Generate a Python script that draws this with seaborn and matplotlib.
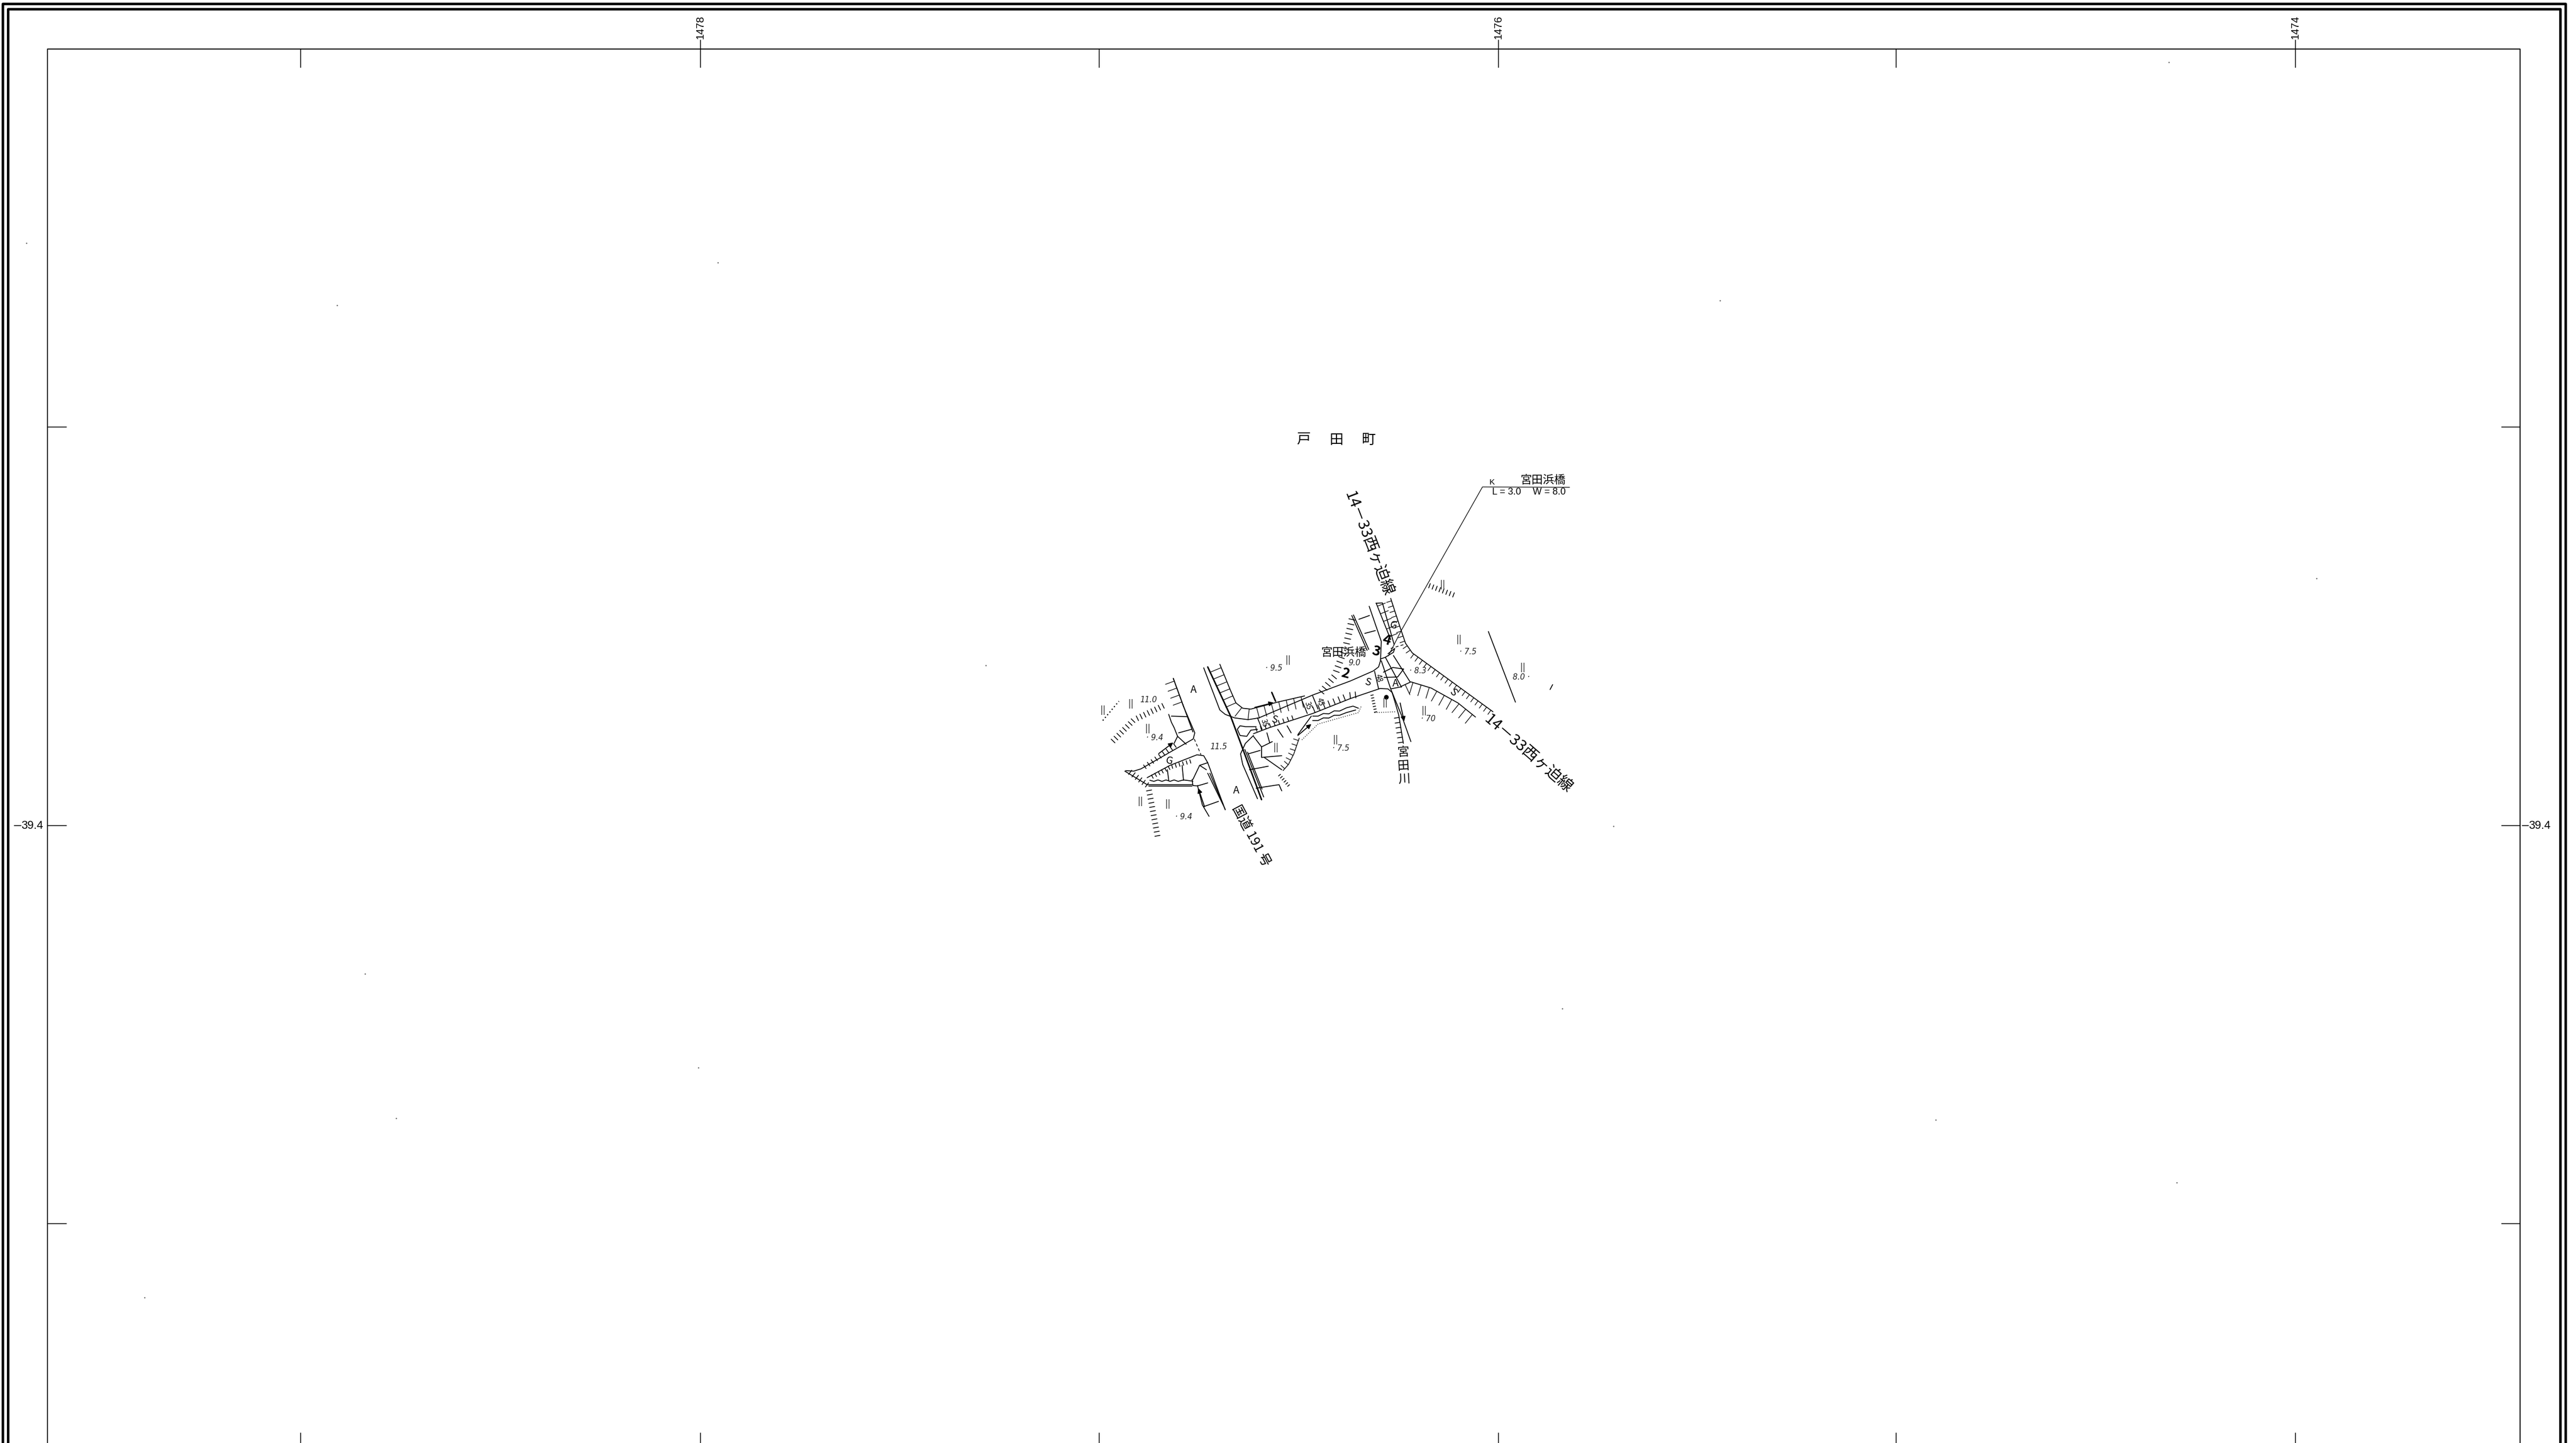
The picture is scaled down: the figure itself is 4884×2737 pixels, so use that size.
"""
Site plan sheet for the 宮田浜橋 area, traced by hand from the scan.
Everything sits on one axes in sheet pixels. Crop A / crop B lists are the
traces as read from the two zoomed crops, converted in crop_a() / crop_b().
"""

import matplotlib
matplotlib.use("Agg")
import matplotlib.pyplot as plt
import matplotlib.patheffects as pe
import pandas as pd
import seaborn as sns

W, H = 4884, 2737

# --- sheet frame and grid ticks (sheet pixels)
frame_outer = [(5, H), (5, 7), (4864, 7), (4864, H)]
frame_inner = [(15, H), (15, 17), (4854, 17), (4854, H)]
neatline = [(90, H), (90, 93), (4778, 93), (4778, H)]
x_ticks = [570, 1328, 2084, 2841, 3595, 4352]
y_ticks = [810, 1566, 2321]
x_tick_labels = ["1478", "1476", "1474"]
x_tick_label_pos = [1328, 2841, 4352]
y_tick_label = "39.4"

# --- traces, crop A
road_w_upper = [(342, 410), (380, 570), (422, 720), (416, 755), (330, 830), (222, 925), (195, 938), (165, 935)]
road_w_lower = [(245, 975), (330, 905), (430, 845), (455, 850), (470, 890), (535, 1158)]
road_w_south_a = [(162, 938), (245, 1015), (412, 1015)]
road_w_south_b = [(250, 1022), (412, 1022)]
road_w_rail_a = [(378, 560), (415, 715)]
road_w_rail_b = [(470, 950), (535, 1155)]
road_w_rail_c = [(478, 950), (528, 1130)]
wall_w_a = [(325, 615), (335, 660), (345, 690), (358, 740), (345, 780)]
wall_w_b = [(255, 990), (270, 996), (285, 988), (300, 996), (315, 988), (330, 996), (345, 988), (360, 996), (380, 988), (415, 995)]
wall_w_c = [(412, 985), (415, 1020), (432, 1022), (470, 1005)]
wall_w_d = [(432, 1020), (450, 1130), (475, 1195)]
wall_w_e = [(415, 985), (440, 905), (470, 890)]
rung_w_a = [(335, 625), (395, 628)]
rung_w_b = [(362, 720), (410, 700)]
rung_w_c = [(358, 740), (390, 785)]
rung_w_d = [(455, 1140), (510, 1110)]
rung_w_e = [(375, 905), (380, 990)]
rung_w_f = [(320, 930), (325, 990)]
rung_w_g = [(440, 905), (465, 930)]
road_w_dash = [(420, 755), (445, 845)]

hatch_w_top = [(342, 410), (378, 560)]
hatch_w_g = [(350, 775), (290, 840), (225, 910)]
hatch_w_h = [(255, 965), (330, 905), (410, 870)]
ticks_w_arc = [(120, 785), (200, 660), (315, 575)]
ticks_w_south = [(170, 950), (240, 1030), (275, 1320)]
ticks_w_dots = [(80, 650), (140, 540)]

mid_n_edge = [(455, 350), (515, 590), (535, 615), (570, 635), (620, 645), (660, 635), (860, 505), (1000, 425), (1085, 368), (1105, 345), (1112, 310)]
mid_n_wavy = [(515, 330), (555, 480), (575, 550), (600, 580), (630, 585), (730, 545), (830, 510)]
mid_bold_w = [(470, 345), (555, 625), (600, 810), (670, 1100)]
mid_w_curve = [(640, 735), (610, 780), (592, 840), (600, 900), (655, 1095)]
mid_w_rail_a = [(608, 815), (678, 1085)]
mid_w_rail_b = [(618, 830), (672, 1040)]
mid_s_edge = [(640, 725), (700, 690), (860, 610), (1000, 525), (1110, 468), (1140, 470), (1155, 490)]
mid_s_wavy_a = [(860, 625), (880, 625), (900, 610), (920, 612), (940, 595), (960, 596), (985, 578), (1010, 568), (1030, 580)]
mid_s_wavy_b = [(860, 650), (880, 650), (900, 635), (920, 636), (940, 620), (960, 620), (985, 605), (1020, 590)]
mid_s_link = [(855, 625), (805, 730)]
mid_s_dots = [(820, 760), (880, 670), (1030, 605), (1040, 570)]
mid_s_dots_b = [(1090, 605), (1170, 600)]
keyhole = [(650, 685), (610, 685), (590, 680), (580, 700), (590, 735), (615, 740), (630, 705), (655, 700)]
dim_35_a = [(655, 635), (672, 700)]
dim_35_b = [(820, 535), (840, 610)]
dim_45 = [(860, 510), (880, 585)]
dim_48 = [(1090, 370), (1105, 470)]
mark_one = [(708, 490), (722, 540)]
rung_m_a = [(690, 720), (700, 775)]
rung_m_b = [(730, 700), (750, 745)]
rung_m_c = [(765, 680), (780, 720)]
rung_m_d = [(640, 740), (670, 800), (670, 860), (745, 850)]
rung_m_e = [(670, 800), (710, 770)]
rung_m_f = [(680, 860), (745, 930)]
rung_m_g = [(620, 840), (665, 820)]
rung_m_h = [(625, 930), (695, 910)]
rung_m_i = [(650, 1035), (735, 1015), (745, 1050)]
hatch_m_s = [(860, 610), (1000, 525), (1030, 520)]
hatch_m_bank = [(810, 750), (790, 840), (770, 900), (750, 935)]
hatch_m_rungs = [(645, 715), (700, 690), (795, 640)]
ticks_m_low = [(730, 960), (770, 1030)]
ticks_m_fan = [(1075, 500), (1090, 610)]

river_e = [(1115, 310), (1150, 470), (1190, 620), (1225, 770)]
river_w = [(1155, 490), (1165, 540), (1180, 620), (1197, 780)]
river_w_ticks = [(1180, 620), (1197, 785)]
bridge_a = [(1160, 280), (1222, 430)]
bridge_b = [(1130, 290), (1190, 460)]
bridge_c = [(1112, 300), (1130, 290), (1160, 262), (1165, 240), (1140, 270)]
bridge_foot = [(1150, 470), (1190, 458)]
bridge_box = [(1123, 375), (1158, 348), (1198, 357), (1176, 402), (1125, 405)]
bridge_dash = [(1150, 240), (1205, 215)]
curve_se = [(1190, 455), (1225, 430), (1300, 465), (1400, 550), (1465, 630)]
edge_ne = [(1150, -45), (1185, 120), (1205, 210), (1230, 265), (1530, 600)]
road_n_w = [(1070, 0), (1115, 200), (1112, 310)]
road_n_e = [(1096, -18), (1150, 190)]

# --- traces, crop B
leader = [(1290, 404), (920, 402), (575, 1165), (520, 1300)]
road_n_top = [(468, 1020), (495, 1018), (545, 1240)]
triple_a = [(365, 1085), (430, 1270)]
triple_b = [(372, 1082), (437, 1265)]
rung_n_a = [(395, 1105), (440, 1085)]
rung_n_b = [(420, 1180), (465, 1165)]
ticks_n_arc = [(355, 1090), (330, 1230), (280, 1400), (220, 1490)]
ticks_n_field = [(685, 935), (800, 990)]
stream_e = [(945, 1170), (1060, 1545)]
speck_mark = [(1207, 1478), (1218, 1452)]

# --- arrows, crop A
arrow_tails = [(288, 838), (458, 1140), (645, 575), (805, 735), (1185, 550)]
arrow_heads = [(342, 775), (435, 1035), (715, 548), (855, 670), (1200, 655)]

# --- labels, crop A
elev_text_a = ["· 9.5", "11.0", "· 9.4", "11.5", "· 9.4", "9.0", "· 8.3", "· 7.5", "· 70", "· 7.5"]
elev_pos_a = [(715, 352), (250, 532), (272, 750), (510, 800), (380, 1197), (1015, 322), (1250, 368), (1438, 260), (1290, 640), (965, 807)]
letter_text_a = ["A", "A", "A", "S", "S", "G", "G"]
letter_pos_a = [(418, 475), (575, 1048), (1168, 440), (718, 645), (1065, 432), (327, 880), (1160, 108)]
letter_rot_a = [0, 0, 0, -15, -15, -15, -15]
number_text_a = ["2", "3", "4"]
number_pos_a = [(982, 382), (1095, 258), (1135, 195)]
dim_text_a = ["35", "35", "45", "48"]
dim_pos_a = [(680, 665), (842, 565), (888, 545), (1105, 408)]
field_pos_a = [(185, 555), (82, 590), (248, 695), (770, 305), (725, 805), (945, 760), (1275, 595), (1130, 550), (1405, 190), (322, 1125), (220, 1110)]
field_pos_b = [(752, 920), (1092, 1360)]
dots_pos_a = [(1133, 515)]

# --- specks on the scan, sheet pixels
speck_x = [4392, 4112, 3261, 2962, 692, 751, 274, 50, 639, 1361, 1869, 3670, 4127, 1324, 3059]
speck_y = [1097, 118, 570, 1913, 1847, 2121, 2461, 461, 579, 498, 1262, 2124, 2243, 2025, 1567]


def crop_a(pts):
    return [(2050 + px / 1.96, 1150 + py / 3) for px, py in pts]


def crop_b(pts):
    return [(2400 + px / 2.24, 780 + py / 2.8) for px, py in pts]


def draw_paths(ax, paths, lw=1.1, effects=None, **kws):
    rows = []
    for i, path in enumerate(paths):
        for x, y in path:
            rows.append({"path": i, "x": x, "y": y})
    df = pd.DataFrame(rows)
    before = len(ax.lines)
    sns.lineplot(data=df, x="x", y="y", units="path", estimator=None, sort=False,
                 color="black", linewidth=lw, legend=False, ax=ax, **kws)
    if effects:
        for line in ax.lines[before:]:
            line.set_path_effects(effects)


# angle 90 puts ticks on the left of the path direction as seen on the sheet
def ticks_only(spacing, length, angle=90):
    return [pe.TickedStroke(spacing=spacing, length=length, angle=angle, linewidth=1.1)]


def line_and_ticks(spacing, length, angle=90):
    return [pe.Stroke(), pe.TickedStroke(spacing=spacing, length=length, angle=angle, linewidth=0.9)]


sns.set_theme(style="white")
plt.rcParams["font.family"] = ["Noto Sans CJK JP", "DejaVu Sans"]

fig = plt.figure(figsize=(W / 100, H / 100), dpi=100)
ax = fig.add_axes([0, 0, 1, 1])

# frame
draw_paths(ax, [frame_outer, frame_inner], lw=3.4)
draw_paths(ax, [neatline], lw=1.3)
tick_paths = [[(x, 93), (x, 128)] for x in x_ticks]
tick_paths += [[(x, 2718), (x, H)] for x in x_ticks]
tick_paths += [[(90, y), (126, y)] for y in y_ticks]
tick_paths += [[(4743, y), (4778, y)] for y in y_ticks]
tick_paths += [[(x, 76), (x, 93)] for x in x_tick_label_pos]
tick_paths += [[(27, 1566), (40, 1566)], [(4782, 1566), (4794, 1566)]]
draw_paths(ax, tick_paths, lw=1.1)
for x, txt in zip(x_tick_label_pos, x_tick_labels):
    ax.text(x, 52, txt, rotation=90, ha="center", va="center", fontsize=14.5,
            family="Liberation Sans", color="black")
ax.text(61, 1567, y_tick_label, ha="center", va="center", fontsize=15.5, family="Liberation Sans", color="black")
ax.text(4815, 1567, y_tick_label, ha="center", va="center", fontsize=15.5, family="Liberation Sans", color="black")

# plain linework
thin_a = [road_w_upper, road_w_lower, road_w_south_a, road_w_south_b, wall_w_a, wall_w_b, wall_w_c,
          wall_w_d, wall_w_e, rung_w_a, rung_w_b, rung_w_c, rung_w_d, rung_w_e, rung_w_f, rung_w_g,
          mid_n_edge, mid_w_curve, mid_s_edge, mid_s_wavy_a, mid_s_wavy_b, mid_s_link, keyhole,
          dim_35_a, dim_35_b, dim_45, dim_48, rung_m_a, rung_m_b, rung_m_c, rung_m_d, rung_m_e,
          rung_m_f, rung_m_g, rung_m_h, rung_m_i, river_e, river_w, bridge_a, bridge_b, bridge_c,
          bridge_foot, bridge_box, road_n_w, road_w_rail_a, road_w_rail_b, road_w_rail_c,
          mid_w_rail_a, mid_w_rail_b]
draw_paths(ax, [crop_a(p) for p in thin_a], lw=1.2)
thin_b = [road_n_top, triple_a, triple_b, rung_n_a, rung_n_b, stream_e, speck_mark]
draw_paths(ax, [crop_b(p) for p in thin_b], lw=1.2)
draw_paths(ax, [crop_b(leader)], lw=0.9)
draw_paths(ax, [crop_a(mid_bold_w), crop_a(mark_one)], lw=2.0)
draw_paths(ax, [crop_a(road_w_dash), crop_a(bridge_dash)], lw=1.0, linestyle=(0, (4, 3)))
draw_paths(ax, [crop_a(mid_s_dots), crop_a(mid_s_dots_b)], lw=1.0, linestyle=(0, (1, 2)))

# hachures
draw_paths(ax, [crop_a(hatch_w_top)], lw=1.2, effects=line_and_ticks(8, 1.6, -90))
draw_paths(ax, [crop_a(hatch_w_g)], lw=1.0, effects=ticks_only(6, 1.0, 90))
draw_paths(ax, [crop_a(hatch_w_h)], lw=1.0, effects=ticks_only(5, 1.0, -90))
draw_paths(ax, [crop_a(ticks_w_arc), crop_a(ticks_w_south)], lw=1.0, effects=ticks_only(5.5, 1.3, 90))
draw_paths(ax, [crop_a(ticks_w_dots)], lw=1.6, linestyle=(0, (1, 2)))
draw_paths(ax, [crop_a(mid_n_wavy)], lw=1.2, effects=line_and_ticks(10, 1.5, -90))
draw_paths(ax, [crop_a(hatch_m_s)], lw=1.0, effects=ticks_only(7, 1.2, 90))
draw_paths(ax, [crop_a(hatch_m_rungs)], lw=1.0, effects=ticks_only(6, 0.9, 90))
draw_paths(ax, [crop_a(hatch_m_bank)], lw=1.0, effects=line_and_ticks(7, 1.0, -90))
draw_paths(ax, [crop_a(ticks_m_low), crop_a(ticks_m_fan)], lw=1.0, effects=ticks_only(3.5, 1.0, 90))
draw_paths(ax, [crop_a(river_w_ticks)], lw=1.0, effects=ticks_only(6, 1.1, -90))
draw_paths(ax, [crop_a(curve_se)], lw=1.2, effects=line_and_ticks(11, 1.4, -90))
draw_paths(ax, [crop_a(edge_ne)], lw=1.2, effects=line_and_ticks(7, 1.0, -90))
draw_paths(ax, [crop_a(road_n_e)], lw=1.2, effects=line_and_ticks(9, 1.3, 90))
draw_paths(ax, [crop_b(ticks_n_arc)], lw=1.0, effects=ticks_only(6.5, 1.3, 90))
draw_paths(ax, [crop_b(ticks_n_field)], lw=1.0, effects=ticks_only(4.5, 1.4, 90))

# arrows
for tail, head in zip(crop_a(arrow_tails), crop_a(arrow_heads)):
    ax.annotate("", xy=head, xytext=tail,
                arrowprops=dict(arrowstyle="-|>", color="black", lw=1.3, mutation_scale=13,
                                shrinkA=0, shrinkB=0))

# map symbols and labels
for (x, y), txt in zip(crop_a(elev_pos_a), elev_text_a):
    ax.text(x, y, txt, fontsize=10.5, style="italic", family="DejaVu Sans", ha="center", va="center", color="#222222")
ax.text(*crop_b([(1085, 1412)])[0], "8.0 ·", fontsize=10.5, style="italic", family="DejaVu Sans", ha="center", va="center", color="#222222")
for (x, y), txt, rot in zip(crop_a(letter_pos_a), letter_text_a, letter_rot_a):
    ax.text(x, y, txt, fontsize=14, ha="center", va="center", color="black", rotation=rot)
ax.text(*crop_a([(1382, 490)])[0], "S", fontsize=14, ha="center", va="center", rotation=-45, color="black")
for (x, y), txt in zip(crop_a(number_pos_a), number_text_a):
    ax.text(x, y, txt, fontsize=19, fontweight="bold", ha="center", va="center", rotation=-15, color="black")
for (x, y), txt in zip(crop_a(dim_pos_a), dim_text_a):
    ax.text(x, y, txt, fontsize=10, ha="center", va="center", rotation=-75, color="black")
for x, y in crop_a(field_pos_a) + crop_b(field_pos_b):
    ax.text(x, y, "||", fontsize=12, family="DejaVu Sans", ha="center", va="center", color="#333333")
ax.scatter(*zip(*crop_a(dots_pos_a)), s=40, color="black", linewidths=0)
ax.scatter(speck_x, speck_y, s=3, color="#555555", linewidths=0)

cjk = dict(ha="center", va="center", color="black")
for x, ch in zip([2471, 2534, 2594], "戸田町"):
    ax.text(x, 834, ch, fontsize=19, **cjk)
ax.text(2925, 911, "宮田浜橋", fontsize=15.5, **cjk)
ax.text(2829, 915, "K", fontsize=11, family="Liberation Sans", ha="center", va="center", color="black")
ax.text(2856, 934, "L = 3.0", fontsize=13, family="Liberation Sans", ha="center", va="center", color="black")
ax.text(2937, 934, "W = 8.0", fontsize=13, family="Liberation Sans", ha="center", va="center", color="black")
ax.text(2547, 1238, "宮田浜橋", fontsize=15.5, **cjk)
ax.text(2594, 1032, "14－33西ヶ迫線", fontsize=21, rotation=-69, rotation_mode="anchor", **cjk)
ax.text(2897, 1430, "14－33西ヶ迫線", fontsize=21, rotation=-41, rotation_mode="anchor", **cjk)
ax.text(2372, 1585, "国道 191 号", fontsize=18, rotation=-62, rotation_mode="anchor", **cjk)
ax.text(2661, 1453, "宮\n田\n川", fontsize=16.5, linespacing=1.15, rotation=3, **cjk)

ax.set_xlim(0, W)
ax.set_ylim(H, 0)
ax.axis("off")
fig.savefig("out.png", dpi=100, facecolor="white")
